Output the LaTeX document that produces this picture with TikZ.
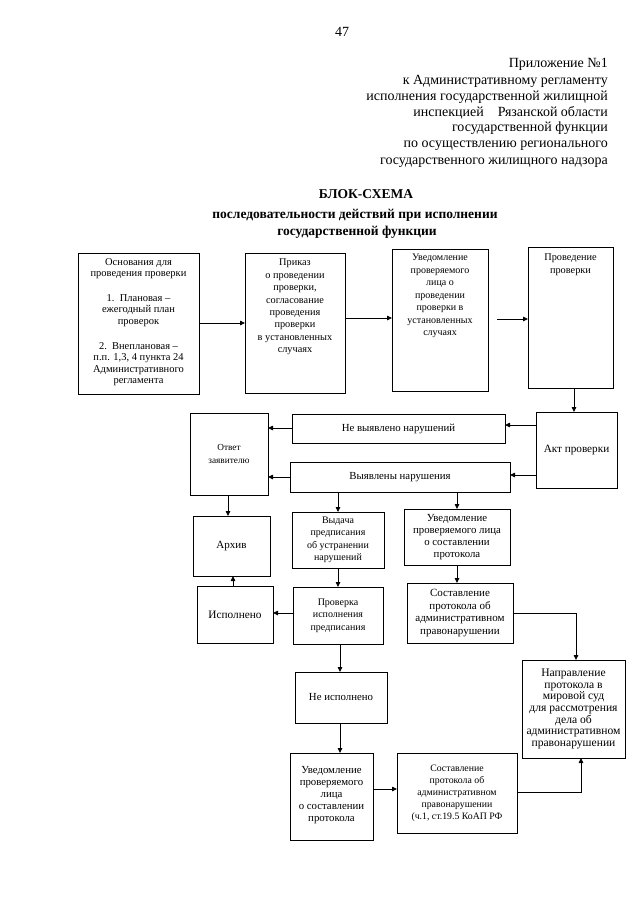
\documentclass[tikz,border=0pt]{standalone}
\usepackage{fontspec}
\setmainfont{Liberation Serif}
\usetikzlibrary{arrows.meta}
\newcommand\boxat[7][]{\node[box, minimum width={#5pt-#3pt}, minimum height={#6pt-#4pt}, #1] (#2) at ({(#3+#5)/2},{(#4+#6)/2}) {#7};}
\begin{document}
\begin{tikzpicture}[x=1pt,y=-1pt,
  fs/.style 2 args={font=\fontsize{#1}{#2}\selectfont},
  box/.style={draw, line width=0.9pt, inner sep=0pt, outer sep=0pt, align=center, fs={10.8}{11.7}},
  toptext/.style={anchor=north, inner sep=0pt, align=center},
  arr/.style={line width=0.8pt, -{Triangle[length=5pt,width=4.5pt]}},
  hdr/.style={anchor=base east, inner sep=0pt, fs={14}{16}},
  ttl/.style={anchor=base, inner sep=0pt, font=\bfseries\fontsize{13.5}{15}\selectfont}]
\useasboundingbox (0,0) rectangle (640,905);
% header
\node[anchor=base, inner sep=0pt, fs={14}{16}] (pg) at (342,36) {47};
\node[hdr] (h1) at (608,67) {Приложение №1};
\node[hdr] (h2) at (608,84) {к Административному регламенту};
\node[hdr] (h3) at (608,100) {исполнения государственной жилищной};
\node[hdr] (h4) at (608,116) {инспекцией\quad Рязанской области};
\node[hdr] (h5) at (608,131) {государственной функции};
\node[hdr] (h6) at (608,147) {по осуществлению регионального};
\node[hdr] (h7) at (608,164) {государственного жилищного надзора};
\node[ttl] (t1) at (366,198) {БЛОК-СХЕМА};
\node[ttl] (t2) at (355,218) {последовательности действий при исполнении};
\node[ttl] (t3) at (357,235) {государственной функции};
% top row
\boxat{b1}{78}{253}{199}{394}{}
\node[toptext, fs={10.5}{11.6}] (b1t) at ([yshift=-5pt]b1.north) {Основания для\\проведения проверки\\[13pt]1.\ \ Плановая –\\ежегодный план\\проверок\\[13pt]2.\ \ Внеплановая –\\п.п. 1,3, 4 пункта 24\\Административного\\регламента};
\boxat{b2}{245}{253}{345}{393}{}
\node[toptext, fs={10.3}{12.4}] (b2t) at ([yshift=-6pt]b2.north) {Приказ\\о проведении\\проверки,\\согласование\\проведения\\проверки\\в установленных\\случаях};
\boxat{b3}{392}{249}{488}{391}{}
\node[toptext, fs={10}{12.5}] (b3t) at ([yshift=-5pt]b3.north) {Уведомление\\проверяемого\\лица о\\проведении\\проверки в\\установленных\\случаях};
\boxat{b4}{528}{247}{613}{388}{}
\node[toptext, fs={10.3}{12.5}] (b4t) at ([yshift=-7pt]b4.north) {Проведение\\проверки};
% middle
\boxat[fs={11.2}{12}]{akt}{536}{412}{617}{488}{Акт проверки}
\boxat[fs={10.8}{12}]{nev}{292}{414}{505}{443}{Не выявлено нарушений}
\boxat[fs={10.8}{12}]{vyy}{290}{462}{510}{492}{Выявлены нарушения}
\boxat[fs={9.3}{12.5}]{otv}{190}{413}{268}{495}{Ответ\\заявителю}
\boxat[fs={11}{12}]{arh}{193}{516}{270}{576}{Архив}
\boxat[fs={10}{12.5}]{vyd}{292}{512}{384}{568}{Выдача\\предписания\\об устранении\\нарушений}
\boxat[fs={10.8}{12}]{uv2}{404}{509}{510}{565}{Уведомление\\проверяемого лица\\о составлении\\протокола}
\boxat[fs={11.3}{12}]{isp}{197}{586}{273}{643}{Исполнено}
\boxat[fs={10}{12.5}]{prv}{293}{587}{383}{644}{Проверка\\исполнения\\предписания}
\boxat[fs={11}{12.4}]{sos1}{407}{583}{513}{643}{Составление\\протокола об\\административном\\правонарушении}
\boxat[fs={10.8}{12}]{neisp}{295}{672}{387}{723}{Не исполнено}
\boxat[fs={10.8}{12}, text depth=5pt]{uv3}{290}{753}{373}{840}{Уведомление\\проверяемого\\лица\\о составлении\\протокола}
\boxat[fs={9.8}{12}]{sos2}{397}{753}{517}{833}{Составление\\протокола об\\административном\\правонарушении\\(ч.1, ст.19.5 КоАП РФ}
\boxat[fs={11.6}{11.6}]{napr}{522}{660}{625}{758}{Направление\\протокола в\\мировой суд\\для рассмотрения\\дела об\\административном\\правонарушении}
% connectors
\draw[arr] (b1.east |- 0,323) -- (b2.west |- 0,323);
\draw[arr] (b2.east |- 0,318) -- (b3.west |- 0,318);
\coordinate (c34) at (497,319);
\draw[arr] (c34) -- (b4.west |- c34);
\draw[arr] (b4.south -| 574,0) -- (akt.north -| 574,0);
\draw[arr] (akt.west |- 0,425) -- (nev.east |- 0,425);
\draw[arr] (akt.west |- 0,475) -- (vyy.east |- 0,475);
\draw[arr] (nev.west |- 0,428) -- (otv.east |- 0,428);
\draw[arr] (vyy.west |- 0,477) -- (otv.east |- 0,477);
\draw[arr] (otv.south -| 228,0) -- (arh.north -| 228,0);
\draw[arr] (vyy.south -| 338,0) -- (vyd.north -| 338,0);
\draw[arr] (vyy.south -| 457,0) -- (uv2.north -| 457,0);
\draw[arr] (vyd.south -| 338,0) -- (prv.north -| 338,0);
\draw[arr] (prv.west |- 0,613) -- (isp.east |- 0,613);
\draw[arr] (isp.north -| 233,0) -- (arh.south -| 233,0);
\draw[arr] (uv2.south -| 457,0) -- (sos1.north -| 457,0);
\draw[arr] (sos1.east |- 0,613) -| (napr.north -| 576,0);
\draw[arr] (prv.south -| 340,0) -- (neisp.north -| 340,0);
\draw[arr] (neisp.south -| 340,0) -- (uv3.north -| 340,0);
\draw[arr] (uv3.east |- 0,789) -- (sos2.west |- 0,789);
\draw[arr] (sos2.east |- 0,792) -| (napr.south -| 581,0);
\end{tikzpicture}
\end{document}
